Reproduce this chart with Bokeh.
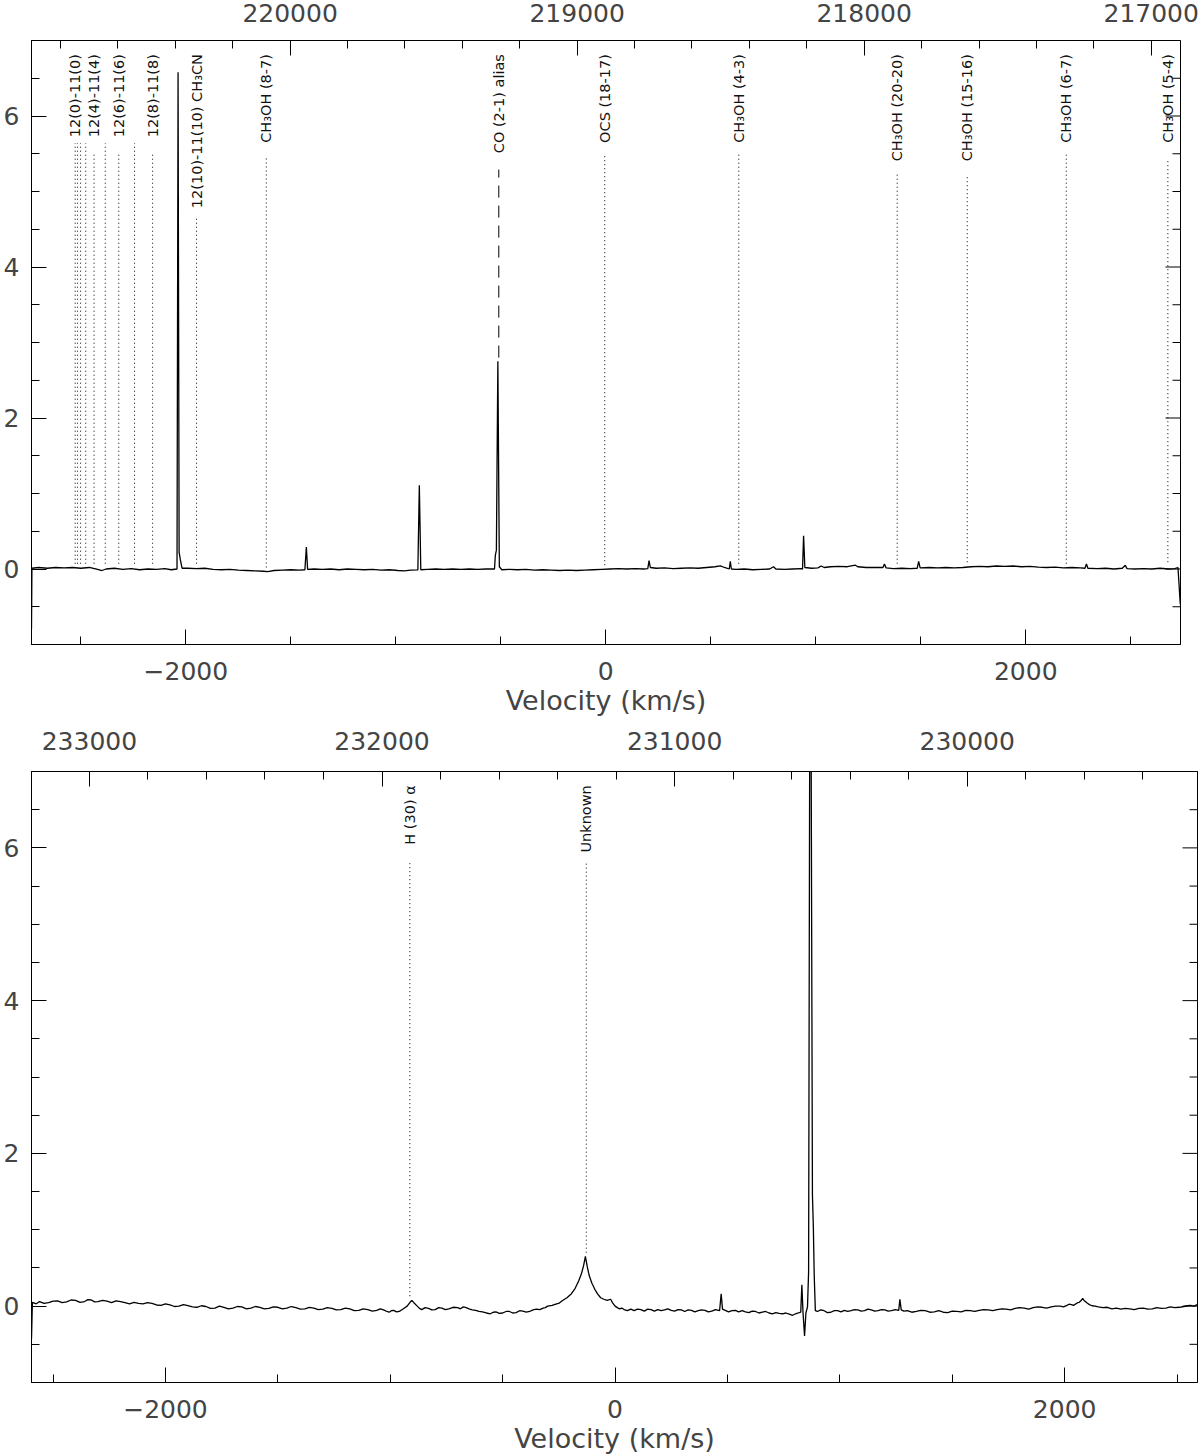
import math
from bokeh.plotting import figure
from bokeh.models import (Range1d, LinearAxis, SingleIntervalTicker, BasicTickFormatter,
                          CustomJSTickFormatter, ColumnDataSource)
from bokeh.layouts import column
from bokeh.embed import file_html
from bokeh.resources import INLINE
from bokeh.core.properties import value

# ---------------- data: upper spectrum (velocity km/s, intensity) ----------------
vel_top = [-2735, -2733, -2700, -2660, -2620, -2580, -2540, -2500, -2460, -2420, -2400, -2380,
           -2340, -2300, -2260, -2220, -2180, -2140, -2100, -2070, -2042, -2037, -2032, -2026,
           -2018, -1990, -1950, -1910, -1870, -1830, -1790, -1750, -1710, -1670, -1630, -1610,
           -1580, -1540, -1500, -1460, -1433, -1426, -1420, -1390, -1350, -1310, -1270, -1230,
           -1190, -1150, -1110, -1070, -1030, -990, -960, -930, -895, -888, -881, -850, -810,
           -770, -730, -690, -650, -610, -570, -530, -526, -521, -514, -507, -495, -460, -420,
           -380, -340, -300, -260, -220, -180, -140, -100, -60, -20, 20, 60, 100, 140, 180, 200,
           206, 212, 240, 280, 320, 360, 400, 440, 480, 520, 546, 565, 588, 593, 598, 620, 660,
           700, 740, 780, 799, 810, 850, 890, 930, 937, 942, 948, 980, 1010, 1026, 1040, 1070,
           1110, 1150, 1189, 1200, 1240, 1280, 1320, 1327, 1335, 1370, 1410, 1450, 1483, 1490,
           1497, 1540, 1580, 1620, 1660, 1700, 1740, 1780, 1820, 1860, 1900, 1940, 1980, 2020,
           2060, 2100, 2140, 2180, 2220, 2260, 2282, 2289, 2296, 2340, 2380, 2420, 2460, 2474,
           2482, 2520, 2560, 2600, 2640, 2680, 2710, 2725, 2736]
flux_top = [-0.79, 0.01, 0.02, 0.01, 0.02, 0.015, 0.02, 0.01, 0.02, -0.005, -0.02, 0.0,
            0.01, -0.005, 0.005, -0.01, 0.0, -0.005, 0.005, -0.01, 0.0, 6.58, 0.22, 0.12,
            0.01, 0.01, 0.005, 0.01, -0.005, -0.01, -0.005, -0.015, -0.02, -0.025, -0.03, -0.035,
            -0.02, -0.015, -0.01, -0.015, -0.01, 0.29, -0.005, 0.0, -0.005, 0.0, -0.01, 0.0,
            -0.005, -0.01, -0.005, -0.015, -0.01, -0.02, -0.025, -0.015, -0.012, 1.11, -0.01, -0.005, 0.0,
            -0.005, 0.0, -0.005, 0.0, -0.005, 0.0, 0.0, 0.18, 0.25, 2.75, 0.03, -0.01, -0.005, -0.01,
            -0.005, -0.015, -0.01, -0.015, -0.02, -0.015, -0.02, -0.015, -0.01, -0.005, 0.0, 0.005, 0.0, 0.005, 0.0, 0.005,
            0.11, 0.02, 0.01, 0.015, 0.005, 0.01, 0.015, 0.01, 0.02, 0.03, 0.04, 0.02, 0.0, 0.1, 0.0, -0.005, 0.0,
            -0.01, -0.005, 0.0, 0.03, 0.0, -0.005, 0.0, 0.005, 0.0, 0.44, 0.02, 0.01, 0.015, 0.04, 0.02, 0.03,
            0.035, 0.03, 0.05, 0.03, 0.02, 0.02, 0.02, 0.066, 0.015, 0.005, 0.01, 0.005, 0.01, 0.1,
            0.015, 0.02, 0.015, 0.02, 0.015, 0.02, 0.03, 0.035, 0.03, 0.04, 0.035, 0.04, 0.03, 0.035,
            0.025, 0.02, 0.025, 0.015, 0.02, 0.015, 0.01, 0.066, 0.01, 0.005, 0.01, 0.0, 0.01, 0.05,
            0.005, 0.0, 0.005, 0.0, 0.01, 0.0, 0.005, 0.02, -0.47]

# ---------------- data: lower spectrum ----------------
vel_bot = [-2596, -2592, -2575, -2560, -2540, -2520, -2500, -2480, -2460, -2440, -2420, -2400,
           -2380, -2360, -2345, -2330, -2315, -2300, -2280, -2260, -2240, -2220, -2200,
           -2180, -2160, -2140, -2120, -2100, -2080, -2060, -2040, -2020, -2000, -1980, -1960,
           -1940, -1920, -1900, -1880, -1860, -1840, -1820, -1800, -1780, -1760, -1740,
           -1720, -1700, -1680, -1660, -1640, -1620, -1600, -1580, -1560, -1540, -1520, -1500,
           -1480, -1460, -1440, -1420, -1400, -1380, -1360, -1340, -1320, -1300, -1280, -1260,
           -1240, -1220, -1200, -1180, -1160, -1140, -1120, -1100, -1080, -1060, -1045, -1030,
           -1015, -1005, -995, -985, -972, -960, -950, -940, -925, -912, -904,
           -895, -880, -870, -860, -845, -830, -815, -800, -785, -770, -755, -740, -720, -700,
           -688, -675, -662, -650, -635, -620, -605, -590, -572, -555, -542, -530, -515,
           -500, -485, -470, -455, -440, -425, -410, -395, -380, -365, -350, -335, -320, -310,
           -300, -280, -260, -248, -235, -214, -195, -178, -162,
           -150, -140, -132, -124, -115, -103, -90, -78, -64, -50, -35, -20, -10, 0, 10, 20, 30, 40,
           55, 70, 85, 100, 115, 130, 145, 160, 175, 190, 205, 220, 235, 250, 265, 280, 295, 310,
           325, 340, 355, 370, 385, 400, 415, 430, 447, 465, 472, 478, 490, 505, 520,
           535, 550, 565, 580, 595, 610, 625, 640, 655, 670, 685, 700, 715, 730, 745, 760, 775,
           790, 803, 815, 826, 831, 836, 843, 849, 856, 861,
           866, 872, 878, 882, 886, 891, 900, 915, 930, 945, 960, 975, 990, 1005, 1020, 1035,
           1050, 1065, 1080, 1095, 1110, 1125, 1140, 1155, 1170, 1185,
           1200, 1215, 1230, 1246, 1262, 1267, 1273, 1285, 1300, 1320, 1340, 1360, 1380, 1400,
           1420, 1440, 1460, 1480, 1500, 1520, 1540, 1560, 1580, 1600, 1620, 1640,
           1660, 1680, 1700, 1720, 1740, 1760, 1780, 1800, 1820, 1840, 1860, 1880, 1900, 1920,
           1940, 1960, 1980, 1995, 2010, 2020, 2030, 2040, 2050, 2058, 2065, 2072, 2080,
           2086, 2092, 2100, 2110, 2122, 2135, 2150, 2170, 2190, 2210, 2230, 2250, 2270, 2290,
           2310, 2330, 2350, 2370, 2390, 2410, 2430, 2450, 2470, 2490, 2510, 2530, 2545, 2560,
           2575, 2590]
flux_bot = [-0.43, 0.05, 0.03, 0.06, 0.035, 0.045, 0.065, 0.07, 0.045, 0.055, 0.08, 0.075,
            0.05, 0.06, 0.085, 0.08, 0.055, 0.06, 0.075, 0.065, 0.045, 0.07, 0.06,
            0.045, 0.03, 0.05, 0.035, 0.03, 0.045, 0.035, 0.015, 0.01, 0.03, 0.015, -0.005,
            0.0, 0.02, 0.005, -0.01, -0.015, 0.005, -0.005, -0.03, -0.025, 0.0, -0.015,
            -0.035, -0.025, -0.005, -0.01, -0.035, -0.025, -0.005, -0.015, -0.035, -0.03, -0.01, -0.015,
            -0.035, -0.025, -0.005, -0.02, -0.04, -0.035, -0.015, -0.025, -0.045, -0.04, -0.02, -0.03,
            -0.05, -0.045, -0.025, -0.035, -0.06, -0.055, -0.035, -0.045, -0.065, -0.055, -0.035, -0.05,
            -0.07, -0.08, -0.06, -0.055, -0.075, -0.07, -0.05, -0.03, 0.0, 0.05, 0.075,
            0.045, 0.0, -0.03, -0.045, -0.02, -0.03, -0.05, -0.045, -0.02, -0.025, -0.045, -0.035, -0.015, -0.02,
            -0.035, -0.01, -0.02, -0.035, -0.05, -0.055, -0.07, -0.075, -0.09, -0.1, -0.08, -0.075, -0.095,
            -0.09, -0.07, -0.07, -0.09, -0.085, -0.06, -0.065, -0.08, -0.07, -0.05, -0.04, -0.045, -0.025, -0.02,
            0.0, 0.01, 0.03, 0.04, 0.07, 0.11, 0.16, 0.23, 0.33,
            0.42, 0.53, 0.65, 0.52, 0.4, 0.3, 0.22, 0.16, 0.11, 0.09, 0.075, 0.09, 0.04, 0.0, -0.02, -0.035, -0.025, -0.045,
            -0.06, -0.04, -0.06, -0.04, -0.045, -0.065, -0.04, -0.045, -0.065, -0.045, -0.06, -0.05, -0.035, -0.055, -0.065, -0.045, -0.05, -0.07,
            -0.05, -0.055, -0.075, -0.06, -0.05, -0.055, -0.075, -0.065, -0.045, -0.06, 0.16, -0.04, -0.055, -0.075, -0.06,
            -0.055, -0.075, -0.06, -0.075, -0.085, -0.065, -0.07, -0.09, -0.08, -0.07, -0.09, -0.1, -0.085, -0.095, -0.1, -0.09, -0.105,
            -0.12, -0.1, -0.09, -0.08, 0.28, -0.08, -0.39, -0.09, -0.01, 0.45,
            7.6, 7.6, 1.46, 1.05, 0.4, -0.06, -0.07, -0.05, -0.06, -0.085, -0.08, -0.06, -0.06, -0.075, -0.055, -0.07,
            -0.06, -0.045, -0.05, -0.065, -0.06, -0.04, -0.05, -0.065, -0.06, -0.045,
            -0.05, -0.065, -0.06, -0.045, -0.055, 0.09, -0.05, -0.065, -0.06, -0.08, -0.07, -0.055, -0.06, -0.08,
            -0.075, -0.06, -0.08, -0.085, -0.065, -0.07, -0.075, -0.055, -0.06, -0.07, -0.055, -0.045,
            -0.05, -0.06, -0.045, -0.035, -0.04, -0.05, -0.03, -0.02, -0.025, -0.04, -0.02, -0.01, -0.015, -0.025,
            -0.01, 0.0, 0.0, -0.01, 0.01, 0.025, 0.02, 0.01, 0.03, 0.045, 0.05, 0.07, 0.1,
            0.075, 0.06, 0.04, 0.02, 0.005, 0.0, -0.01, -0.02, -0.015, -0.035, -0.025, -0.04, -0.03, -0.035,
            -0.045, -0.03, -0.025, -0.04, -0.035, -0.02, -0.03, -0.025, -0.01, -0.02, -0.015, -0.005, 0.005, 0.01,
            0.0, 0.02]

# ---------------- line identifications (rest frequency MHz on the top axis) ----------------
top_mark_freq = [220749, 220741, 220730, 220712, 220683, 220644, 220597, 220542, 220479, 220326,
                 220083, 219273, 218904, 218437, 217885, 217641, 217296, 216942]
top_mark_label = ["12(0)-11(0)", "", "", "", "12(4)-11(4)", "", "12(6)-11(6)", "", "12(8)-11(8)",
                  "12(10)-11(10) CH\u2083CN", "CH\u2083OH (8-7)", "CO (2-1) alias", "OCS (18-17)",
                  "CH\u2083OH (4-3)", "CH\u2083OH (20-20)", "CH\u2083OH (15-16)", "CH\u2083OH (6-7)",
                  "CH\u2083OH (5-4)"]
top_mark_top = [5.64, 5.64, 5.64, 5.64, 5.50, 5.64, 5.50, 5.64, 5.50, 4.65,
                5.46, 5.29, 5.48, 5.51, 5.26, 5.22, 5.51, 5.44]
top_mark_bottom = [0.07, 0.07, 0.07, 0.07, 0.07, 0.07, 0.07, 0.07, 0.07, 0.07,
                   0.02, 2.8, 0.05, 0.07, 0.07, 0.09, 0.07, 0.09]
top_mark_kind = ["dot"] * 11 + ["dash"] + ["dot"] * 6

bot_mark_freq = [231905, 231302]
bot_mark_label = ["H (30) \u03b1", "Unknown"]
bot_mark_top = [5.83, 5.83]
bot_mark_bottom = [0.13, 0.70]
bot_mark_kind = ["dot", "dot"]

label_top_y = 6.82

# intensity tick values (used for the ticks on the right-hand frame edge)
y_major_ticks = [0, 2, 4, 6]
y_minor_ticks = [-0.5, 0.5, 1, 1.5, 2.5, 3, 3.5, 4.5, 5, 5.5, 6.5]

FONT = "DejaVu Sans"
TXT = "#444444"


def style_ticks(ax):
    ax.major_tick_in = 15
    ax.major_tick_out = 0
    ax.minor_tick_in = 8
    ax.minor_tick_out = 0
    ax.axis_line_color = "black"
    ax.major_tick_line_color = "black"
    ax.minor_tick_line_color = "black"
    ax.major_label_text_font = FONT
    ax.major_label_text_font_size = "25px"
    ax.major_label_text_color = TXT


def panel(vel, flux, v_lo, v_hi, f_lo, f_hi, mfreq, mlabel, mtop, mbot, mkind,
          width, height, mb_top, mb_bottom, mb_left, mb_right, top_standoff, bot_standoff,
          lw):
    p = figure(width=width, height=height, x_range=Range1d(v_lo, v_hi), y_range=Range1d(-1, 7),
               output_backend="svg", toolbar_location=None,
               min_border_top=mb_top, min_border_bottom=mb_bottom,
               min_border_left=mb_left, min_border_right=mb_right)
    if hasattr(p, "frame_align"):
        p.frame_align = False
    p.extra_x_ranges = {"freq": Range1d(start=f_lo, end=f_hi)}
    p.xgrid.visible = False
    p.ygrid.visible = False
    p.outline_line_color = "black"
    p.outline_line_width = 1

    xb = p.xaxis[0]
    xb.ticker = SingleIntervalTicker(interval=2000, num_minor_ticks=4)
    xb.formatter = CustomJSTickFormatter(code="return tick < 0 ? '\\u2212' + (-tick) : '' + tick;")
    style_ticks(xb)
    xb.major_label_standoff = bot_standoff
    xb.axis_label = "Velocity (km/s)"
    xb.axis_label_text_font = FONT
    xb.axis_label_text_font_size = "27px"
    xb.axis_label_text_font_style = "normal"
    xb.axis_label_text_color = TXT
    xb.axis_label_standoff = 2

    yl = p.yaxis[0]
    yl.ticker = SingleIntervalTicker(interval=2, num_minor_ticks=4)
    style_ticks(yl)
    yl.major_label_standoff = 12

    top_ax = LinearAxis(x_range_name="freq",
                        ticker=SingleIntervalTicker(interval=1000, num_minor_ticks=5),
                        formatter=BasicTickFormatter(use_scientific=False))
    style_ticks(top_ax)
    top_ax.major_label_standoff = top_standoff
    p.add_layout(top_ax, "above")

    # inward ticks on the right-hand edge of the frame (half of each dash is clipped away)
    p.scatter([v_hi] * len(y_major_ticks), y_major_ticks, marker="dash", size=30,
              line_color="black", line_width=1)
    p.scatter([v_hi] * len(y_minor_ticks), y_minor_ticks, marker="dash", size=16,
              line_color="black", line_width=1)

    # spectrum
    p.line(vel, flux, line_color="black", line_width=lw)

    # identification markers
    for kind, dash in (("dot", "1 3"), ("dash", "12 8")):
        idx = [i for i, k in enumerate(mkind) if k == kind]
        if not idx:
            continue
        src = ColumnDataSource(dict(f=[mfreq[i] for i in idx],
                                    t=[mtop[i] for i in idx],
                                    b=[mbot[i] for i in idx]))
        p.segment(x0="f", y0="b", x1="f", y1="t", source=src, x_range_name="freq",
                  line_color="black", line_width=1, line_dash=dash)

    lab_idx = [i for i, s in enumerate(mlabel) if s]
    lsrc = ColumnDataSource(dict(f=[mfreq[i] for i in lab_idx],
                                 y=[label_top_y] * len(lab_idx),
                                 s=[mlabel[i] for i in lab_idx]))
    p.text(x="f", y="y", text="s", source=lsrc, x_range_name="freq", angle=math.pi / 2,
           text_align="right", text_baseline="middle", text_font=value(FONT),
           text_font_size="14.5px", text_color="#111111")
    return p


p1 = panel(vel_top, flux_top, -2735, 2737, 220901, 216898,
           top_mark_freq, top_mark_label, top_mark_top, top_mark_bottom, top_mark_kind,
           width=1200, height=720, mb_top=40, mb_bottom=76, mb_left=31, mb_right=20,
           top_standoff=19, bot_standoff=17, lw=1.3)
p2 = panel(vel_bot, flux_bot, -2596, 2591, 233198, 229213,
           bot_mark_freq, bot_mark_label, bot_mark_top, bot_mark_bottom, bot_mark_kind,
           width=1200, height=736, mb_top=51, mb_bottom=73, mb_left=31, mb_right=3,
           top_standoff=22, bot_standoff=17, lw=1.3)

layout = column(p1, p2)

open("out.html", "w").write(file_html(layout, INLINE))
